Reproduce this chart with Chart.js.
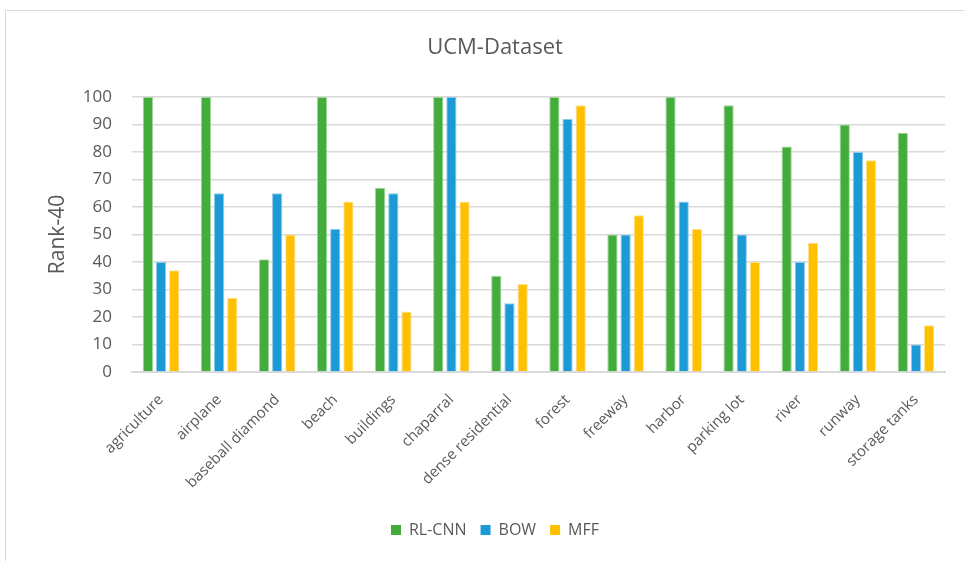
<!DOCTYPE html>
<html><head><meta charset="utf-8">
<script src="https://cdn.jsdelivr.net/npm/chart.js@4"></script>
<style>
html,body{margin:0;padding:0;background:#fff;}
#wrap{position:relative;width:964px;height:561px;overflow:hidden;}
#frame{position:absolute;left:5px;top:10px;width:1000px;height:600px;border:1px solid #d9d9d9;box-sizing:border-box;}
canvas{position:absolute;left:0;top:0;}
</style></head>
<body>
<div id="wrap"><div id="frame"></div><canvas id="c" width="964" height="561"></canvas></div>
<script>
const categories = ["agriculture","airplane","baseball diamond","beach","buildings","chaparral","dense residential","forest","freeway","harbor","parking lot","river","runway","storage tanks"];
const rlcnn = [100,100,41,100,67,100,35,100,50,100,97,82,90,87];
const bow   = [40,65,65,52,65,100,25,92,50,62,50,40,80,10];
const mff   = [37,27,50,62,22,62,32,97,57,52,40,47,77,17];
const seriesNames = ["RL-CNN","BOW","MFF"];
const yTicks = [0,10,20,30,40,50,60,70,80,90,100];

const FONT = "'Open Sans', 'Liberation Sans', sans-serif";
const textGray = '#595959';
const PADL = 45;
function ds(label, data, color, border){
  return {label, data, backgroundColor: color, borderColor: border, borderWidth: 1,
    barPercentage: 0.78, categoryPercentage: 0.68};
}
new Chart(document.getElementById('c'), {
  type: 'bar',
  data: {
    labels: categories,
    datasets: [
      ds(seriesNames[0], rlcnn, '#43ad3b', '#9fd69b'),
      ds(seriesNames[1], bow, '#1b9ad6', '#8fcaea'),
      ds(seriesNames[2], mff, '#ffc000', '#ffe08a')
    ]
  },
  options: {
    responsive: false,
    animation: false,
    devicePixelRatio: 1,
    layout: {padding: {left: PADL, right: 19, top: 35, bottom: 13}},
    plugins: {
      title: {display: true, text: 'UCM-Dataset', color: textGray,
        font: {family: FONT, size: 22, weight: 'normal'}, padding: {top: 0, bottom: 35.6}},
      legend: {position: 'bottom',
        labels: {color: textGray, font: {family: FONT, size: 16}, boxWidth: 10, boxHeight: 10, padding: 14,
          generateLabels(chart){
            return chart.data.datasets.map((d,i)=>({text:d.label, fillStyle:d.backgroundColor, strokeStyle:d.backgroundColor, lineWidth:0, datasetIndex:i, fontColor:textGray}));
          }}},
      tooltip: {enabled: false}
    },
    scales: {
      x: {
        grid: {display: false, drawTicks: false},
        border: {display: true, color: '#d9d9d9', width: 2},
        ticks: {color: textGray, font: {family: FONT, size: 15}, minRotation: 45, maxRotation: 45, padding: 19},
        afterFit(s){ s.height = 136; }
      },
      y: {
        min: 0, max: 100,
        afterBuildTicks(s){ s.ticks = yTicks.map(v=>({value:v})); },
        grid: {color: '#d9d9d9', lineWidth: 1.5, drawTicks: false},
        border: {display: false},
        ticks: {color: textGray, font: {family: FONT, size: 17}, padding: 20},
        title: {display: true, text: 'Rank-40', color: textGray, font: {family: FONT, size: 21}, padding: {top: 0, bottom: 0}},
        afterFit(s){ s.width = 132 - PADL; }
      }
    }
  }
});
</script>
</body></html>
